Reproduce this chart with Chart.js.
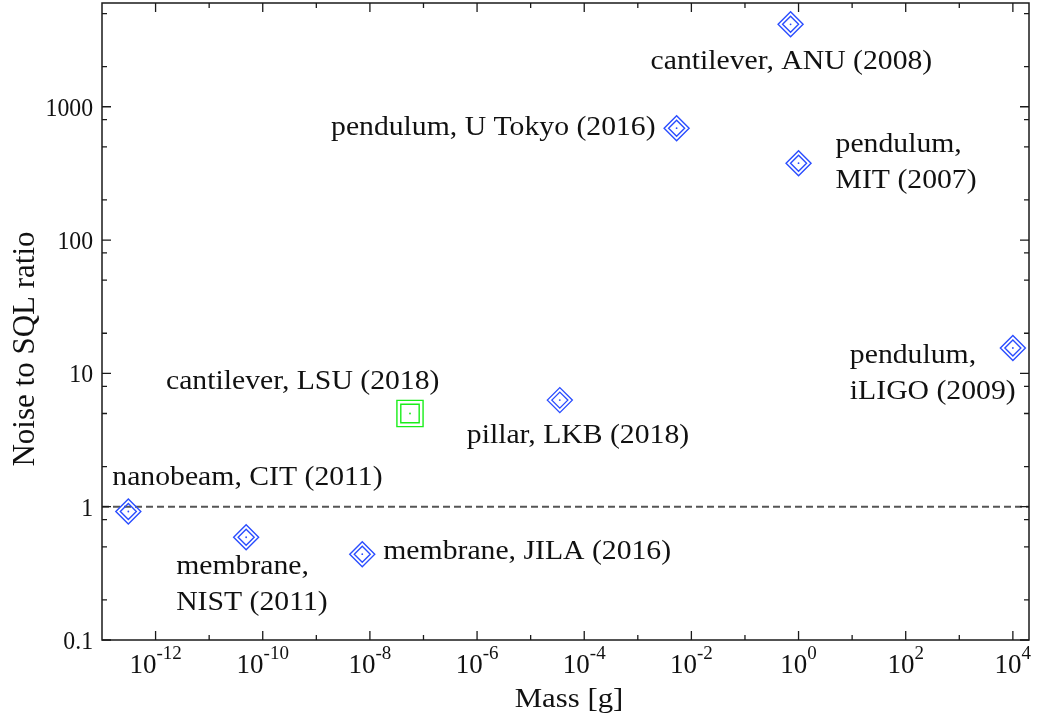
<!DOCTYPE html>
<html>
<head>
<meta charset="utf-8">
<script src="https://cdn.jsdelivr.net/npm/chart.js@4.4.0/dist/chart.umd.min.js"></script>
<style>
  html, body { margin: 0; padding: 0; background: #fff; }
  #wrap { width: 1041px; height: 717px; }
</style>
</head>
<body>
<div id="wrap"><canvas id="sqlChart"></canvas></div>
<script>
const names = ['nanobeam, CIT (2011)', 'membrane,\nNIST (2011)', 'membrane, JILA (2016)',
  'cantilever, LSU (2018)', 'pillar, LKB (2018)', 'pendulum, U Tokyo (2016)',
  'cantilever, ANU (2008)', 'pendulum,\nMIT (2007)', 'pendulum,\niLIGO (2009)'];
const masses = [3.1e-13, 4.9e-11, 7.2e-9, 5.6e-8, 3.5e-5, 5.3e-3, 0.71, 1.0, 1.0e4];
const ratios = [0.92, 0.59, 0.44, 5.0, 6.3, 690, 4150, 377, 15.5];
const markers = ['diamond', 'diamond', 'diamond', 'square', 'diamond', 'diamond', 'diamond', 'diamond', 'diamond'];

// SQL reference level and axis limits
const sqlLevel = 1;
const xMin = 1e-13, xMax = 2e4;
const yMin = 0.1, yMax = 6000;

const xMajorTicks = [1e-12, 1e-10, 1e-8, 1e-6, 1e-4, 1e-2, 1e0, 1e2, 1e4];
const xMinorTicks = [1e-11, 1e-9, 1e-7, 1e-5, 1e-3, 1e-1, 1e1, 1e3];
const yMajorTicks = [0.1, 1, 10, 100, 1000];
const yMinorTicks = [0.2, 0.5, 0.8, 2, 5, 8, 20, 50, 80, 200, 500, 800, 2000, 5000];

// label placement relative to each point: dx, dy (px), align
const labelPos = [[-16, -34, 'left'], [-70, 30, 'left'], [21, -2, 'left'], [-244, -32, 'left'],
  [-93, 36, 'left'], [-21, 0, 'right'], [-140, 38, 'left'], [37, -18, 'left'], [-163, 8, 'left']];

const BLUE = '#2a4dff';
const GREEN = '#19ee19';
const FONT = '"Liberation Serif", "Times New Roman", serif';
const STRETCH = 1.1;

const points = masses.map((m, i) => ({x: m, y: ratios[i]}));
const colors = markers.map(k => k == 'square' ? GREEN : BLUE);
const styles = markers.map(k => k == 'square' ? 'rect' : 'rectRot');

function sText(ctx, txt, x, y, align, sx) {
  ctx.save();
  ctx.translate(x, y);
  ctx.scale(sx || STRETCH, 1);
  ctx.textAlign = align;
  ctx.fillText(txt, 0, 0);
  ctx.restore();
}

const decorations = {
  id: 'decorations',
  afterDraw(chart) {
    const {ctx, chartArea: a, scales: {x, y}} = chart;
    ctx.save();
    ctx.strokeStyle = '#1a1a1a';
    ctx.lineWidth = 1.5;
    ctx.strokeRect(a.left, a.top, a.right - a.left, a.bottom - a.top);

    ctx.lineWidth = 1.3;
    ctx.beginPath();
    const xt = (v, len) => {
      const px = x.getPixelForValue(v);
      ctx.moveTo(px, a.bottom); ctx.lineTo(px, a.bottom - len);
      ctx.moveTo(px, a.top); ctx.lineTo(px, a.top + len);
    };
    const yt = (v, len) => {
      const py = y.getPixelForValue(v);
      ctx.moveTo(a.left, py); ctx.lineTo(a.left + len, py);
      ctx.moveTo(a.right, py); ctx.lineTo(a.right - len, py);
    };
    xMajorTicks.forEach(v => xt(v, 9));
    xMinorTicks.forEach(v => xt(v, 5));
    yMajorTicks.forEach(v => yt(v, 9));
    yMinorTicks.forEach(v => yt(v, 5));
    ctx.stroke();

    ctx.fillStyle = '#111';
    ctx.textBaseline = 'alphabetic';
    // y tick labels
    ctx.font = '25px ' + FONT;
    yMajorTicks.forEach(v => {
      sText(ctx, String(v), a.left - 9, y.getPixelForValue(v) + 9, 'right', 0.95);
    });
    // x tick labels with superscript exponents
    xMajorTicks.forEach(v => {
      const px = x.getPixelForValue(v);
      const exp = String(Math.round(Math.log10(v)));
      ctx.font = '27px ' + FONT;
      const wb = ctx.measureText('10').width;
      ctx.font = '19px ' + FONT;
      const we = ctx.measureText(exp).width;
      const left = px - (wb + we) / 2;
      ctx.font = '27px ' + FONT;
      sText(ctx, '10', left, a.bottom + 33, 'left', 1);
      ctx.font = '19px ' + FONT;
      sText(ctx, exp, left + wb, a.bottom + 19, 'left', 1);
    });

    // axis titles
    ctx.font = '28px ' + FONT;
    sText(ctx, 'Mass [g]', 569, 707, 'center');
    ctx.save();
    ctx.translate(34, 349);
    ctx.rotate(-Math.PI / 2);
    ctx.font = '31px ' + FONT;
    ctx.textAlign = 'center';
    ctx.fillText('Noise to SQL ratio', 0, 0);
    ctx.restore();

    // point labels
    ctx.font = '27px ' + FONT;
    ctx.textBaseline = 'middle';
    names.forEach((n, i) => {
      const px = x.getPixelForValue(masses[i]);
      const py = y.getPixelForValue(ratios[i]);
      const [dx, dy, al] = labelPos[i];
      n.split('\n').forEach((line, k) => {
        sText(ctx, line, px + dx, py + dy + k * 36, al);
      });
    });
    ctx.restore();
  }
};

const ctx = document.getElementById('sqlChart');

const sqlChart = new Chart(ctx, {
  type: 'scatter',
  data: {
    datasets: [
      {
        label: 'centre',
        data: points,
        pointStyle: 'circle',
        pointRadius: 0.9,
        pointBackgroundColor: colors,
        pointBorderWidth: 0
      },
      {
        label: 'inner',
        data: points,
        pointStyle: styles,
        pointRadius: markers.map(k => k == 'square' ? 13 : 8),
        pointBorderColor: colors,
        pointBackgroundColor: 'rgba(0,0,0,0)',
        pointBorderWidth: 1.4
      },
      {
        label: 'outer',
        data: points,
        pointStyle: styles,
        pointRadius: markers.map(k => k == 'square' ? 18.5 : 12.5),
        pointBorderColor: colors,
        pointBackgroundColor: 'rgba(0,0,0,0)',
        pointBorderWidth: 1.4
      },
      {
        type: 'line',
        label: 'SQL',
        data: [{x: xMin, y: sqlLevel}, {x: xMax, y: sqlLevel}],
        borderColor: '#555',
        borderWidth: 2,
        borderDash: [7, 4],
        pointRadius: 0
      }
    ]
  },
  options: {
    responsive: true,
    maintainAspectRatio: false,
    animation: false,
    events: [],
    layout: { autoPadding: false, padding: { left: 102, right: 12, top: 3, bottom: 77 } },
    plugins: { legend: { display: false }, tooltip: { enabled: false } },
    scales: {
      x: { type: 'logarithmic', min: xMin, max: xMax, display: false },
      y: { type: 'logarithmic', min: yMin, max: yMax, display: false }
    }
  },
  plugins: [decorations]
});
</script>
</body>
</html>
